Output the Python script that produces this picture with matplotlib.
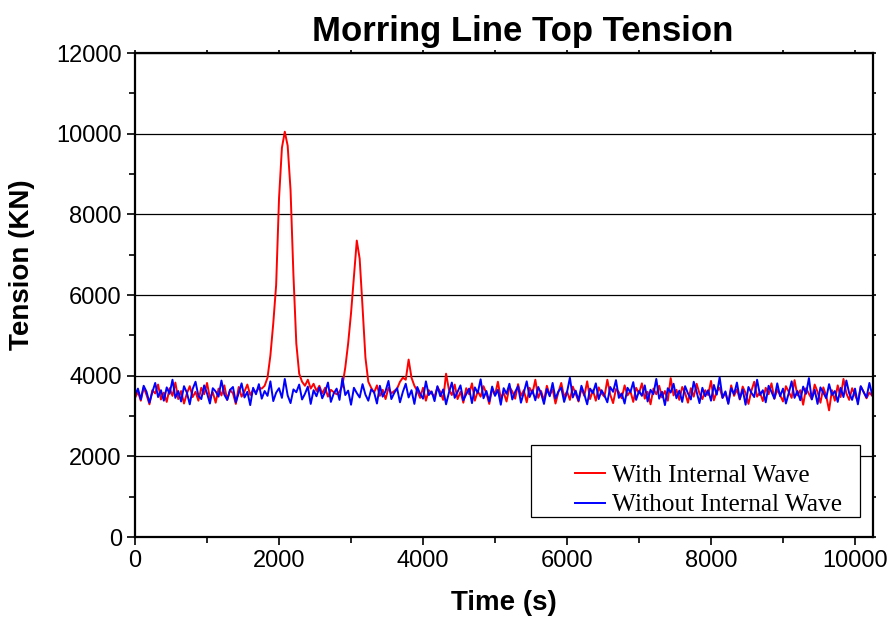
import numpy as np
from matplotlib import pyplot as plt
from matplotlib.ticker import MultipleLocator
from matplotlib.patches import Rectangle

time = np.arange(0, 10241, 40)

with_wave = [
    3450, 3600, 3380, 3710, 3520, 3290, 3640, 3560, 3780, 3410, 3580, 3350, 3690, 3500, 3830, 3420,
    3620, 3310, 3560, 3740, 3470, 3600, 3380, 3700, 3540, 3820, 3440, 3590, 3330, 3680, 3510, 3760,
    3400, 3650, 3560, 3300, 3720, 3480, 3610, 3780, 3520, 3650, 3590, 3700, 3680, 3750, 3950, 4500,
    5300, 6250, 8400, 9650, 10050, 9700, 8600, 6500, 4800, 4050, 3850, 3750, 3900, 3680, 3800, 3620,
    3750, 3560, 3700, 3480, 3650, 3590, 3540, 3600, 3750, 4200, 4800, 5550, 6450, 7350, 6900, 5700,
    4450, 3850, 3700, 3580, 3760, 3500, 3650, 3420, 3700, 3560, 3620, 3680, 3850, 3950, 3900, 4400,
    3950, 3750, 3620, 3450, 3700, 3380, 3640, 3560, 3480, 3720, 3600, 3400, 4050, 3650, 3520, 3780,
    3420, 3600, 3330, 3690, 3540, 3810, 3380, 3620, 3480, 3740, 3560, 3300, 3670, 3520, 3850, 3440,
    3580, 3360, 3720, 3610, 3430, 3790, 3500, 3640, 3340, 3700, 3560, 3900, 3450, 3620, 3380, 3750,
    3520, 3660, 3310, 3590, 3820, 3470, 3610, 3400, 3730, 3550, 3360, 3680, 3500, 3860, 3420, 3640,
    3380, 3710, 3560, 3480, 3900, 3530, 3320, 3670, 3590, 3440, 3760, 3510, 3620, 3350, 3700, 3560,
    3810, 3430, 3600, 3290, 3680, 3540, 3750, 3460, 3620, 3380, 3940, 3510, 3650, 3400, 3720, 3570,
    3330, 3690, 3480, 3800, 3560, 3420, 3640, 3520, 3870, 3390, 3610, 3700, 3450, 3580, 3320, 3760,
    3500, 3660, 3410, 3730, 3570, 3300, 3620, 3850, 3480, 3590, 3370, 3700, 3540, 3810, 3430, 3650,
    3520, 3360, 3740, 3600, 3450, 3890, 3510, 3640, 3280, 3690, 3550, 3420, 3780, 3600, 3330, 3710,
    3500, 3140, 3640, 3380, 3760, 3470, 3920, 3560, 3400, 3690, 3520, 3350, 3730, 3600, 3440, 3580,
    3500,
]

without_wave = [
    3520, 3680, 3410, 3750, 3600, 3330, 3590, 3820, 3470, 3640, 3380, 3710, 3550, 3900, 3450, 3620,
    3360, 3740, 3580, 3290, 3670, 3850, 3500, 3420, 3760, 3560, 3310, 3690, 3610, 3480, 3880, 3530,
    3400, 3650, 3720, 3340, 3570, 3810, 3460, 3600, 3270, 3700, 3540, 3790, 3430, 3620, 3500, 3860,
    3370, 3580, 3690, 3450, 3920, 3510, 3320, 3660, 3590, 3780, 3410, 3550, 3730, 3300, 3640, 3490,
    3710, 3440, 3600, 3830, 3350, 3560, 3680, 3400, 3940, 3520, 3630, 3280, 3700, 3570, 3460, 3790,
    3530, 3380, 3660, 3590, 3310, 3750, 3480, 3620, 3870, 3420, 3570, 3690, 3340, 3600, 3800, 3460,
    3640, 3300, 3720, 3550, 3430, 3860, 3520, 3610, 3370, 3740, 3490, 3660, 3290, 3580, 3830, 3450,
    3600, 3760, 3390, 3540, 3680, 3320, 3710, 3570, 3910, 3440, 3620, 3360, 3730, 3500, 3650, 3280,
    3690, 3550, 3800, 3410, 3600, 3740, 3330, 3580, 3860, 3470, 3640, 3390, 3720, 3560, 3300, 3670,
    3490, 3820, 3430, 3610, 3700, 3350, 3590, 3950, 3460, 3630, 3380, 3750, 3540, 3290, 3680, 3570,
    3810, 3420, 3640, 3510, 3340, 3720, 3600, 3890, 3450, 3560, 3310, 3700, 3590, 3840, 3400, 3620,
    3500, 3760, 3360, 3650, 3540, 3920, 3430, 3600, 3270, 3690, 3580, 3800, 3440, 3630, 3350, 3740,
    3560, 3410, 3850, 3600, 3320, 3700, 3490, 3640, 3380, 3770, 3530, 3960, 3450, 3610, 3300, 3690,
    3540, 3830, 3420, 3660, 3280, 3720, 3580, 3470, 3900, 3520, 3640, 3340, 3750, 3600, 3430, 3810,
    3490, 3680, 3310, 3570, 3860, 3450, 3620, 3390, 3730, 3550, 3940, 3410, 3650, 3300, 3710, 3580,
    3440, 3790, 3520, 3620, 3350, 3700, 3470, 3880, 3560, 3400, 3680, 3290, 3740, 3590, 3460, 3820,
    3520,
]

plt.rcParams['font.family'] = ['Liberation Sans', 'DejaVu Sans']

fig = plt.figure(figsize=(8.89, 6.24), dpi=100)
ax = fig.add_axes([0.1519, 0.1394, 0.8301, 0.7756])

ax.plot(time, with_wave, color='red', lw=1.4, label='With Internal Wave')
ax.plot(time, without_wave, color='blue', lw=1.4, label='Without Internal Wave')

ax.set_xlim(0, 10250)
ax.set_ylim(0, 12000)
ax.xaxis.set_major_locator(MultipleLocator(2000))
ax.xaxis.set_minor_locator(MultipleLocator(1000))
ax.yaxis.set_major_locator(MultipleLocator(2000))
ax.yaxis.set_minor_locator(MultipleLocator(1000))
ax.yaxis.grid(True, color='black', lw=0.9)
ax.set_axisbelow(True)

ax.tick_params(axis='both', which='major', direction='out', length=6, width=1.2,
               labelsize=17, top=True, right=True)
ax.tick_params(axis='both', which='minor', direction='out', length=4, width=1.2,
               top=True, right=True)
# tiny ticks on the top and right axes
for t in ax.xaxis.get_ticklines(minor=False)[1::2] + ax.xaxis.get_ticklines(minor=True)[1::2]:
    t.set_markersize(2)
for t in ax.yaxis.get_ticklines(minor=False)[1::2] + ax.yaxis.get_ticklines(minor=True)[1::2]:
    t.set_markersize(2)
for s in ax.spines.values():
    s.set_linewidth(1.6)

ax.set_xlabel('Time (s)', fontsize=20, fontweight='bold', labelpad=13)
ax.set_ylabel('Tension (KN)', fontsize=20, fontweight='bold')
ax.yaxis.set_label_coords(-0.135, 0.562)
ax.set_title('Morring Line Top Tension', fontsize=25, fontweight='bold', x=0.525, pad=9)

# legend box drawn separately: the original has wide side padding
ax.add_patch(Rectangle((0.5366, 0.0413), 0.4458, 0.1487, transform=ax.transAxes,
                       facecolor='white', edgecolor='black', lw=0.9, zorder=4))
leg = ax.legend(loc='center left', bbox_to_anchor=(0.596, 0.097), frameon=False,
                handlelength=1.18, handletextpad=0.28, borderpad=0, borderaxespad=0,
                prop={'family': 'Liberation Serif', 'size': 18.3}, labelspacing=0.28)
leg.set_zorder(5)

fig.savefig('out.png', dpi=100)
